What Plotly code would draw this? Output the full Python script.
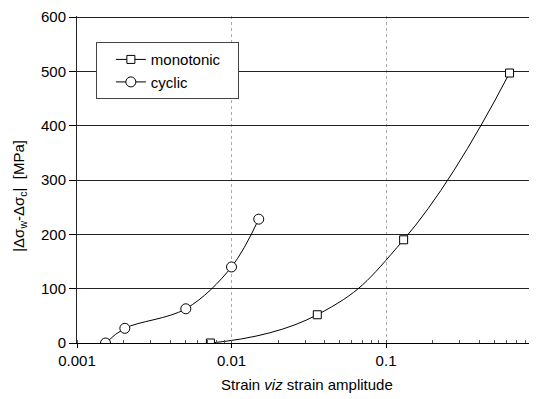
import plotly.graph_objects as go

# Data
mono_x = [0.0073, 0.0359, 0.130, 0.63]
mono_y = [0, 52, 190, 497]
cyc_x = [0.00153, 0.00204, 0.00506, 0.0100, 0.0150]
cyc_y = [0, 27, 63, 140, 228]
x_tickvals = [0.001, 0.01, 0.1]
x_ticktext = ["0.001", "0.01", "0.1"]
y_tickvals = [0, 100, 200, 300, 400, 500, 600]

FONT = "Liberation Sans, Arial, sans-serif"

fig = go.Figure()
fig.add_trace(go.Scatter(
    x=mono_x, y=mono_y, name="monotonic\u00a0\u00a0\u00a0", mode="lines+markers",
    line=dict(color="black", width=1, shape="spline", smoothing=1.3),
    marker=dict(symbol="square", size=8, color="white", line=dict(color="black", width=1)),
))
fig.add_trace(go.Scatter(
    x=cyc_x, y=cyc_y, name="cyclic", mode="lines+markers",
    line=dict(color="black", width=1, shape="spline", smoothing=1.0),
    marker=dict(symbol="circle", size=10, color="white", line=dict(color="black", width=1)),
))

# page body has an 8px margin; figure is sized/offset to compensate
fig.update_layout(
    width=529, height=391,
    margin=dict(l=69, r=0, t=6, b=56),
    paper_bgcolor="white", plot_bgcolor="white",
    font=dict(family=FONT, size=15, color="black"),
    showlegend=True,
    legend=dict(
        x=0.041, y=0.92, xanchor="left", yanchor="top",
        bgcolor="white", bordercolor="#444", borderwidth=1,
        font=dict(size=15), tracegroupgap=0, indentation=14,
    ),
    xaxis=dict(
        type="log", range=[-3, -0.023],
        tickvals=x_tickvals, ticktext=x_ticktext,
        showgrid=True, gridcolor="#aaaaaa", griddash="dot", gridwidth=1,
        showline=True, linecolor="black", linewidth=1,
        ticks="outside", ticklen=4, tickcolor="black",
        minor=dict(ticks="inside", ticklen=3, tickcolor="#555", dtick="D1", showgrid=False),
        zeroline=False, tickfont=dict(size=15), ticklabeloverflow="allow",
    ),
    yaxis=dict(
        range=[0, 602], tickvals=y_tickvals,
        showgrid=True, gridcolor="#222222", gridwidth=1,
        showline=True, linecolor="#222", linewidth=1,
        ticks="outside", ticklen=7, tickcolor="black",
        zeroline=False, tickfont=dict(size=15), ticklabeloverflow="allow",
    ),
    annotations=[
        dict(text="|Δσ<sub>w</sub>-Δσ<sub>c</sub>|  [MPa]", textangle=-90,
             xref="paper", yref="paper", x=-0.124, y=0.45,
             xanchor="center", yanchor="middle", showarrow=False,
             font=dict(size=15)),
        dict(text="Strain <i>viz</i> strain amplitude",
             xref="paper", yref="paper", x=0.5, y=-0.128,
             xanchor="center", yanchor="middle", showarrow=False,
             font=dict(size=15)),
    ],
)

fig.write_html("out.html")
